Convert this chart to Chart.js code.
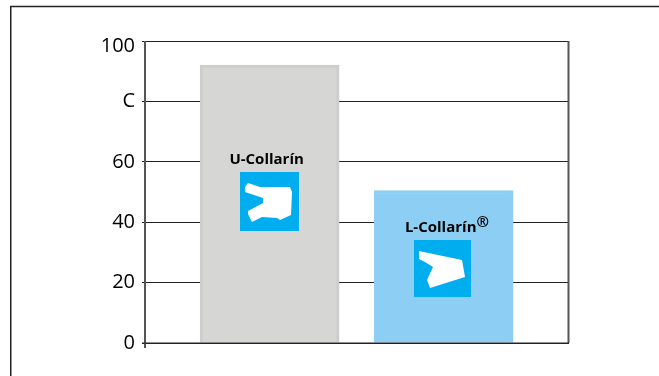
<!DOCTYPE html>
<html>
<head>
<meta charset="utf-8">
<style>
html, body { margin: 0; padding: 0; background: #fff; overflow: hidden; }
#c { display: block; }
</style>
<script src="https://cdn.jsdelivr.net/npm/chart.js@4"></script>
</head>
<body>
<div style="width:659px;height:376px"><canvas id="c"></canvas></div>
<script>
const categories = ['U-Collarín', 'L-Collarín'];
const values = [92, 50.5];
const tickLabels = ['0', '20', '40', '60', 'C', '100'];
const barColors = ['#d6d6d5', '#8dcff4'];
const barEdges = ['#cdcdcc', '#8dcff4'];

// seal outlines, offsets in px from the top left of the blue square
const uSeal = [[8,11],[20,15],[50,15],[52,20],[51,43],[40,48],[37,46],[22,45],[12,50],[8,42],[8,39],[23,31],[23,26],[5,20],[5,15]];
const lSeal = [[5,11],[24,15],[48,20],[51,37],[16,48],[13,40],[19,27],[11,22],[5,19]];
const icons = [
    { seal: uSeal, size: 59, dx: 0, labelValue: 60.7, squareValue: 56.5, mark: false },
    { seal: lSeal, size: 57, dx: -1, labelValue: 38.2, squareValue: 34, mark: true }
];

const decorations = {
    id: 'decorations',
    beforeDraw(chart) {
        const { ctx } = chart;
        ctx.save();
        // outer frame, open on the right and at the bottom
        ctx.strokeStyle = '#222';
        ctx.lineWidth = 1.5;
        ctx.beginPath();
        ctx.moveTo(10.75, 376);
        ctx.lineTo(10.75, 6.5);
        ctx.lineTo(659, 6.5);
        ctx.stroke();
        ctx.restore();
    },
    beforeDatasetsDraw(chart) {
        const { ctx, chartArea: a } = chart;
        ctx.save();
        ctx.strokeStyle = '#555';
        ctx.lineWidth = 2;
        ctx.beginPath();
        ctx.moveTo(a.right - 0.5, a.top);
        ctx.lineTo(a.right - 0.5, a.bottom);
        ctx.moveTo(a.left, a.top);
        ctx.lineTo(a.left, a.bottom + 5);
        ctx.stroke();
        ctx.restore();
    },
    afterDatasetsDraw(chart) {
        const { ctx, chartArea: a } = chart;
        const y = chart.scales.y;
        const bars = chart.getDatasetMeta(0).data;
        ctx.save();
        // baseline sits over the foot of the bars
        ctx.strokeStyle = '#222';
        ctx.lineWidth = 1;
        ctx.beginPath();
        ctx.moveTo(a.left - 3, a.bottom);
        ctx.lineTo(a.right, a.bottom);
        ctx.stroke();

        icons.forEach((icon, i) => {
            const cx = bars[i].x;
            const left = Math.round(cx - icon.size / 2) + icon.dx;
            const top = Math.round(y.getPixelForValue(icon.squareValue));
            ctx.fillStyle = '#00aeef';
            ctx.fillRect(left, top, icon.size, icon.size);
            ctx.fillStyle = '#fff';
            ctx.beginPath();
            icon.seal.forEach((p, k) => {
                if (k === 0) ctx.moveTo(left + p[0], top + p[1]);
                else ctx.lineTo(left + p[0], top + p[1]);
            });
            ctx.closePath();
            ctx.fill();

            ctx.fillStyle = '#000';
            ctx.font = 'bold 15px "Open Sans"';
            ctx.textBaseline = 'middle';
            ctx.textAlign = 'left';
            const w = ctx.measureText(categories[i]).width;
            const ty = y.getPixelForValue(icon.labelValue);
            const tx = cx - w / 2 - 3;
            ctx.fillText(categories[i], tx, ty);
            if (icon.mark) ctx.fillText('®', tx + w, ty - 5);
        });
        ctx.restore();
    }
};

new Chart(document.getElementById('c'), {
    type: 'bar',
    data: {
        datasets: [{
            data: categories.map((c, i) => ({ x: i + 1, y: values[i] })),
            backgroundColor: barColors,
            borderColor: barEdges,
            borderWidth: 3,
            borderSkipped: 'bottom',
            barThickness: 139
        }]
    },
    options: {
        responsive: true,
        maintainAspectRatio: false,
        animation: false,
        layout: { padding: { left: 0, top: 41, right: 90, bottom: 33 } },
        plugins: { legend: { display: false }, tooltip: { enabled: false }, title: { display: false } },
        scales: {
            x: {
                type: 'linear',
                offset: false,
                min: 0.284,
                max: 2.72,
                display: false,
                grid: { display: false }
            },
            y: {
                min: 0,
                max: 100,
                afterFit(scale) { scale.width = 145; },
                border: { display: false },
                grid: { color: '#222', lineWidth: 1, tickLength: 3, drawTicks: true },
                ticks: {
                    stepSize: 20,
                    color: '#000',
                    padding: 7,
                    font: { family: '"Open Sans"', size: 20, lineHeight: 0.5 },
                    // the top label hangs below its gridline in the reference, hence the empty first line
                    callback: (v) => v === 100 ? ['', tickLabels[v / 20]] : tickLabels[v / 20]
                }
            }
        }
    },
    plugins: [decorations]
});
</script>
</body>
</html>
